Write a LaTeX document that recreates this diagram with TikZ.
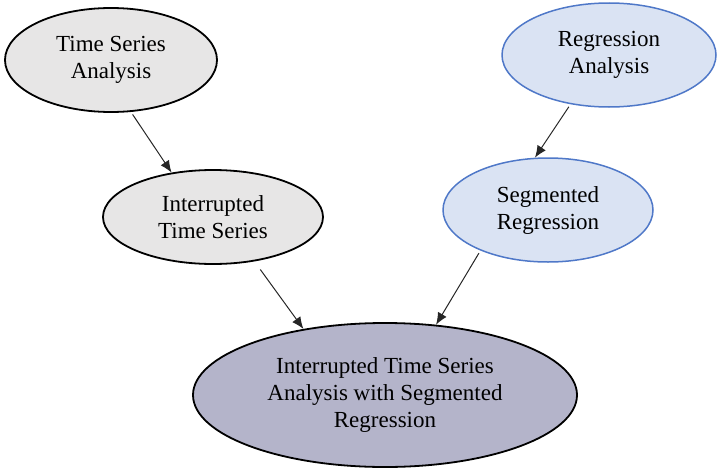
\documentclass[tikz,border=0pt]{standalone}
\usepackage{fontspec}
\setmainfont{Liberation Serif}
\usetikzlibrary{shapes.geometric,arrows.meta}
\definecolor{grayfill}{RGB}{231,230,230}
\definecolor{bluefill}{RGB}{218,227,243}
\definecolor{blueline}{RGB}{79,120,200}
\definecolor{purplefill}{RGB}{180,180,202}
\tikzset{
  oval/.style={ellipse, inner sep=0pt, align=center, font=\fontsize{23pt}{27pt}\selectfont},
  grayoval/.style={oval, fill=grayfill, draw=black, line width=1.8pt},
  blueoval/.style={oval, fill=bluefill, draw=blueline, line width=1.5pt},
  bigoval/.style={oval, fill=purplefill, draw=black, line width=1.8pt},
  conn/.style={draw=black!85, line width=1pt, -{Latex[length=12pt,width=10pt]}}
}
\begin{document}
\begin{tikzpicture}[x=1pt,y=1pt]
\useasboundingbox (0,0) rectangle (720,-471);
\node[grayoval, minimum width=212pt, minimum height=104pt] (tsa) at (111,-60) {Time Series\\Analysis};
\node[blueoval, minimum width=214pt, minimum height=104pt] (ra) at (609,-55) {Regression\\Analysis};
\node[grayoval, minimum width=220pt, minimum height=94pt] (its) at (213,-217) {Interrupted\\Time Series};
\node[blueoval, minimum width=210pt, minimum height=104pt] (sr) at (548,-210) {Segmented\\Regression};
\node[bigoval, minimum width=384pt, minimum height=144pt] (itsa) at (385,-395) {Interrupted Time Series\\Analysis with Segmented\\Regression};
\draw[conn, shorten <=3pt] (tsa.-69.1) -- (its.133);
\draw[conn, shorten <=10pt] (its.-47.3) -- (itsa.141.3);
\draw[conn, shorten <=3pt] (ra.-128.8) -- (sr.104.6);
\draw[conn, shorten <=3pt] (sr.-149.4) -- (itsa.54.5);
\end{tikzpicture}
\end{document}
